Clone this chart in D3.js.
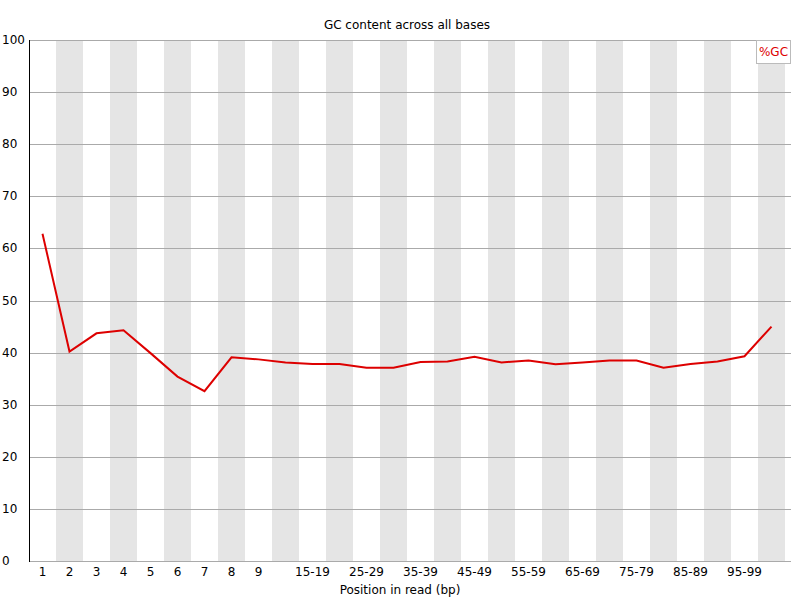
<!DOCTYPE html>
<html>
<head>
<meta charset="utf-8">
<script src="https://cdn.jsdelivr.net/npm/d3@7"></script>
<style>
  html, body { margin: 0; padding: 0; background: #fff; }
  svg { display: block; font-family: "DejaVu Sans", sans-serif; }
</style>
</head>
<body>
<svg id="chart" width="800" height="600"></svg>
<script>
const categories = ["1","2","3","4","5","6","7","8","9",
  "10-14","15-19","20-24","25-29","30-34","35-39","40-44","45-49","50-54",
  "55-59","60-64","65-69","70-74","75-79","80-84","85-89","90-94","95-99","100-101"];
const gcValues = [62.8, 40.2, 43.7, 44.3, 39.9, 35.4, 32.6, 39.1, 38.7,
  38.1, 37.8, 37.8, 37.1, 37.1, 38.2, 38.3, 39.2, 38.1,
  38.5, 37.75, 38.1, 38.5, 38.5, 37.1, 37.8, 38.3, 39.3, 45.0];
const xTickLabels = ["1","2","3","4","5","6","7","8","9",
  "15-19","25-29","35-39","45-49","55-59","65-69","75-79","85-89","95-99"];
const yTicks = [0,10,20,30,40,50,60,70,80,90,100];
const seriesName = "%GC";
const titleText = "GC content across all bases";
const xTitleText = "Position in read (bp)";

(function () {
const svg = d3.select("#chart");
const mLeft = 29, mRight = 785, mTop = 40, mBottom = 561;

const x = d3.scaleBand().domain(categories).range([mLeft, mRight]).padding(0);
const y = d3.scaleLinear().domain([0, 100]).range([mBottom, mTop]);

// stripes
svg.append("g").selectAll("rect")
  .data(categories.filter((d, i) => i % 2 === 1))
  .join("rect")
  .attr("x", d => x(d))
  .attr("y", mTop)
  .attr("width", x.bandwidth())
  .attr("height", mBottom - mTop)
  .attr("fill", "#e5e5e5");

// gridlines
svg.append("g").selectAll("line")
  .data(yTicks)
  .join("line")
  .attr("x1", mLeft).attr("x2", 791)
  .attr("y1", d => Math.round(y(d)) + 0.5)
  .attr("y2", d => Math.round(y(d)) + 0.5)
  .attr("stroke", "#aaaaaa").attr("stroke-width", 1);

// y axis line
svg.append("line")
  .attr("x1", mLeft + 0.5).attr("x2", mLeft + 0.5)
  .attr("y1", mTop).attr("y2", mBottom + 1)
  .attr("stroke", "#000").attr("stroke-width", 1);

// y tick labels
svg.append("g").selectAll("text")
  .data(yTicks)
  .join("text")
  .attr("x", 2)
  .attr("y", d => y(d) + 4)
  .attr("font-size", 12)
  .attr("fill", "#000")
  .text(d => d);

// x tick labels
svg.append("g").selectAll("text")
  .data(xTickLabels)
  .join("text")
  .attr("x", d => x(d) + x.bandwidth() / 2)
  .attr("y", 576)
  .attr("text-anchor", "middle")
  .attr("font-size", 12)
  .attr("fill", "#000")
  .text(d => d);

// line
const line = d3.line()
  .x((d, i) => x(categories[i]) + x.bandwidth() / 2)
  .y(d => y(d));
svg.append("path")
  .datum(gcValues)
  .attr("d", line)
  .attr("fill", "none")
  .attr("stroke", "#dd0000")
  .attr("stroke-width", 2)
  .attr("stroke-linejoin", "miter");

// title
svg.append("text")
  .attr("x", (mLeft + mRight) / 2)
  .attr("y", 29)
  .attr("text-anchor", "middle")
  .attr("font-size", 12)
  .text(titleText);

// x title
svg.append("text")
  .attr("x", 400)
  .attr("y", 594)
  .attr("text-anchor", "middle")
  .attr("font-size", 12)
  .text(xTitleText);

// legend
const lg = svg.append("g");
lg.append("rect")
  .attr("x", 756.5).attr("y", 40.5)
  .attr("width", 34).attr("height", 23)
  .attr("fill", "#fff").attr("stroke", "#bbbbbb");
lg.append("text")
  .attr("x", 773.5).attr("y", 56)
  .attr("text-anchor", "middle")
  .attr("font-size", 12)
  .attr("fill", "#dd0000")
  .text(seriesName);
})();
</script>
</body>
</html>
